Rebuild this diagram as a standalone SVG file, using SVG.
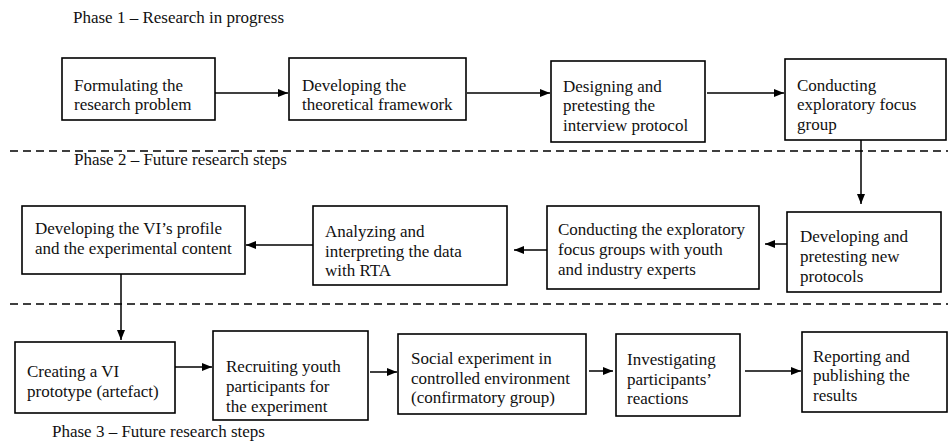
<svg xmlns="http://www.w3.org/2000/svg" width="948" height="448" viewBox="0 0 948 448">
  <style>
    .box { fill: #ffffff; stroke: #000000; stroke-width: 1.6; }
    .t { font-family: 'Liberation Serif', 'Times New Roman', Times, 'DejaVu Serif', serif; font-size: 17px; fill: #111111; }
    .link { stroke: #000000; stroke-width: 1.5; fill: none; marker-end: url(#arrow); }
    .sep { stroke: #000000; stroke-width: 1.5; stroke-dasharray: 8 5; fill: none; }
  </style>
  <defs>
    <marker id="arrow" markerUnits="userSpaceOnUse" markerWidth="10" markerHeight="10" viewBox="0 0 10 10" refX="10" refY="5" orient="auto">
      <path d="M0,1 L10,5 L0,9 Z" fill="#000000"/>
    </marker>
  </defs>

  <rect width="948" height="448" fill="#ffffff"/>

  <!-- phase separators -->
  <g id="separators">
    <line class="sep" x1="10" y1="151" x2="948" y2="151"/>
    <line class="sep" x1="10" y1="304" x2="948" y2="304"/>
  </g>

  <!-- phase titles -->
  <g id="phase-labels">
    <text class="t" x="73" y="23">Phase 1 – Research in progress</text>
    <text class="t" x="74" y="165">Phase 2 – Future research steps</text>
    <text class="t" x="52" y="437">Phase 3 – Future research steps</text>
  </g>

  <!-- Phase 1 -->
  <g id="n1">
    <rect class="box" x="62" y="58" width="153" height="62"/>
    <text class="t" x="74" y="91">Formulating the</text>
    <text class="t" x="74" y="110">research problem</text>
  </g>
  <g id="n2">
    <rect class="box" x="289" y="58" width="177" height="62"/>
    <text class="t" x="302" y="91">Developing the</text>
    <text class="t" x="302" y="110">theoretical framework</text>
  </g>
  <g id="n3">
    <rect class="box" x="551" y="61" width="154" height="81"/>
    <text class="t" x="563" y="92">Designing and</text>
    <text class="t" x="563" y="111">pretesting the</text>
    <text class="t" x="563" y="131">interview protocol</text>
  </g>
  <g id="n4">
    <rect class="box" x="785" y="59" width="161" height="81"/>
    <text class="t" x="797" y="91">Conducting</text>
    <text class="t" x="797" y="110">exploratory focus</text>
    <text class="t" x="797" y="130">group</text>
  </g>

  <!-- Phase 2 -->
  <g id="n5">
    <rect class="box" x="787" y="212" width="154" height="80"/>
    <text class="t" x="800" y="242">Developing and</text>
    <text class="t" x="800" y="262">pretesting new</text>
    <text class="t" x="800" y="282">protocols</text>
  </g>
  <g id="n6">
    <rect class="box" x="547" y="206" width="212" height="83"/>
    <text class="t" x="558" y="235">Conducting the exploratory</text>
    <text class="t" x="558" y="255">focus groups with youth</text>
    <text class="t" x="558" y="275">and industry experts</text>
  </g>
  <g id="n7">
    <rect class="box" x="313" y="206" width="194" height="79"/>
    <text class="t" x="325" y="237">Analyzing and</text>
    <text class="t" x="325" y="257">interpreting the data</text>
    <text class="t" x="325" y="276">with RTA</text>
  </g>
  <g id="n8">
    <rect class="box" x="22" y="206" width="223" height="68"/>
    <text class="t" x="35" y="234">Developing the VI’s profile</text>
    <text class="t" x="35" y="254">and the experimental content</text>
  </g>

  <!-- Phase 3 -->
  <g id="n9">
    <rect class="box" x="15" y="342" width="160" height="71"/>
    <text class="t" x="27" y="377">Creating a VI</text>
    <text class="t" x="27" y="397">prototype (artefact)</text>
  </g>
  <g id="n10">
    <rect class="box" x="213" y="331" width="155" height="89"/>
    <text class="t" x="226" y="372">Recruiting youth</text>
    <text class="t" x="226" y="392">participants for</text>
    <text class="t" x="226" y="412">the experiment</text>
  </g>
  <g id="n11">
    <rect class="box" x="398" y="334" width="188" height="80"/>
    <text class="t" x="411" y="364">Social experiment in</text>
    <text class="t" x="411" y="384">controlled environment</text>
    <text class="t" x="411" y="403">(confirmatory group)</text>
  </g>
  <g id="n12">
    <rect class="box" x="616" y="334" width="124" height="82"/>
    <text class="t" x="627" y="365">Investigating</text>
    <text class="t" x="627" y="385">participants’</text>
    <text class="t" x="627" y="404">reactions</text>
  </g>
  <g id="n13">
    <rect class="box" x="802" y="332" width="145" height="80"/>
    <text class="t" x="813" y="362">Reporting and</text>
    <text class="t" x="813" y="381">publishing the</text>
    <text class="t" x="813" y="401">results</text>
  </g>

  <!-- connectors -->
  <g id="connectors">
    <line class="link" x1="215" y1="93" x2="288" y2="93"/>
    <line class="link" x1="467" y1="93" x2="550" y2="93"/>
    <line class="link" x1="707" y1="93" x2="784" y2="93"/>
    <line class="link" x1="861" y1="140" x2="861" y2="204"/>
    <line class="link" x1="787" y1="244" x2="765" y2="244"/>
    <line class="link" x1="547" y1="250" x2="514" y2="250"/>
    <line class="link" x1="313" y1="245" x2="246" y2="245"/>
    <line class="link" x1="121" y1="274" x2="121" y2="340"/>
    <line class="link" x1="175" y1="367" x2="212" y2="367"/>
    <line class="link" x1="370" y1="372" x2="397" y2="372"/>
    <line class="link" x1="589" y1="371" x2="613" y2="371"/>
    <line class="link" x1="745" y1="371" x2="801" y2="371"/>
  </g>
</svg>
